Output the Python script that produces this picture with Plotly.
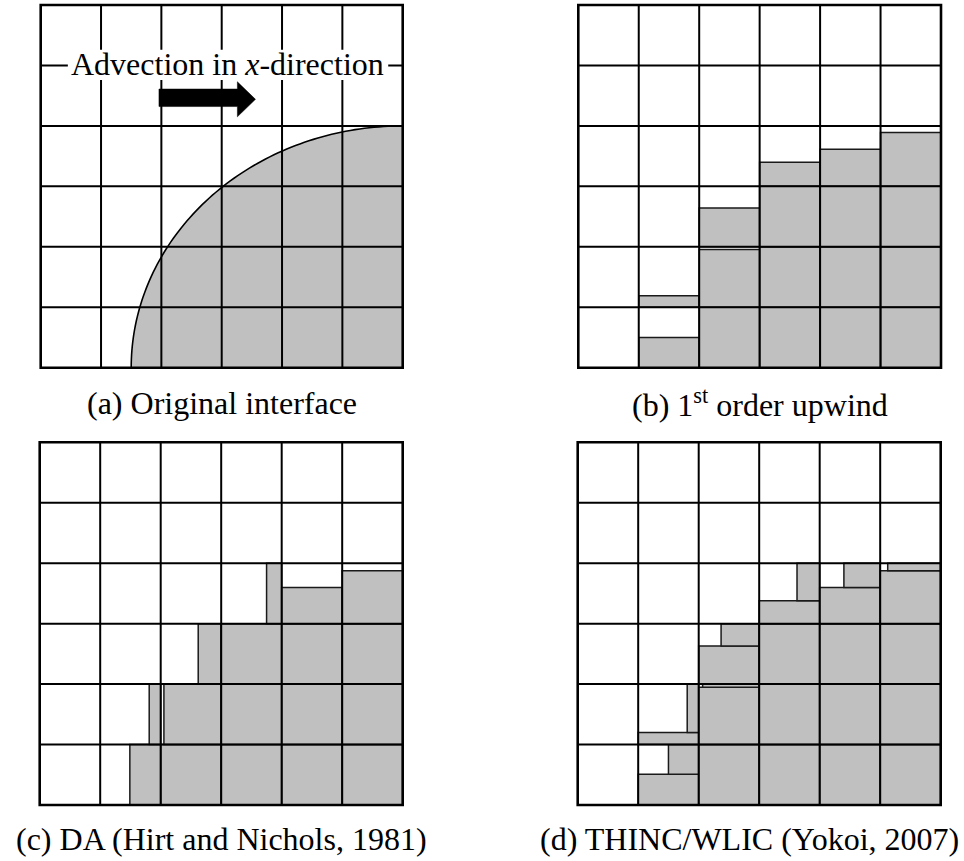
import numpy as np
import plotly.graph_objects as go

W, H = 964, 861
N = 6  # 6 x 6 cells per panel

captions = ["(a) Original interface",
            "(b) 1<sup>st</sup> order upwind",
            "(c) DA (Hirt and Nichols, 1981)",
            "(d) THINC/WLIC (Yokoi, 2007)"]
advection_label = "Advection in <i>x</i>-direction"

# (a) original interface: quarter ellipse centred on the bottom-right corner (cell units)
interface_center = (6.0, 0.0)
interface_semi_axes = (4.5, 4.0)

# (b) 1st order upwind: volume fraction per cell (rows bottom -> top), filled from the bottom
upwind_frac = [
    [0, 0.50, 1.0, 1.0, 1.0, 1.0],
    [0, 0.19, 0.955, 1.0, 1.0, 1.0],
    [0, 0.0, 0.64, 1.0, 1.0, 1.0],
    [0, 0.0, 0.0, 0.40, 0.615, 0.89],
    [0, 0, 0, 0, 0, 0],
    [0, 0, 0, 0, 0, 0],
]

# (c) donor-acceptor: fraction and orientation (H = from bottom, V = from right side)
da_frac = [
    [0, 0.51, 1.0, 1.0, 1.0, 1.0],
    [0, 0.19, 0.947, 1.0, 1.0, 1.0],
    [0, 0.0, 0.38, 1.0, 1.0, 1.0],
    [0, 0.0, 0.0, 0.25, 0.60, 0.876],
    [0, 0, 0, 0, 0, 0],
    [0, 0, 0, 0, 0, 0],
]
da_orient = [
    ["H", "V", "H", "H", "H", "H"],
    ["H", "V", "V", "H", "H", "H"],
    ["H", "H", "V", "H", "H", "H"],
    ["H", "H", "H", "V", "H", "H"],
    ["H", "H", "H", "H", "H", "H"],
    ["H", "H", "H", "H", "H", "H"],
]

# (d) THINC/WLIC: bottom layer height and right-side strip width per cell
wlic_h = [
    [0, 0.51, 1.0, 1.0, 1.0, 1.0],
    [0, 0.20, 0.95, 1.0, 1.0, 1.0],
    [0, 0.0, 0.63, 1.0, 1.0, 1.0],
    [0, 0.0, 0.0, 0.38, 0.60, 0.876],
    [0, 0, 0, 0, 0, 0],
    [0, 0, 0, 0, 0, 0],
]
wlic_w = [
    [0, 0.50, 1.0, 1.0, 1.0, 1.0],
    [0, 0.19, 0.935, 1.0, 1.0, 1.0],
    [0, 0.0, 0.63, 1.0, 1.0, 1.0],
    [0, 0.0, 0.0, 0.375, 0.60, 0.876],
    [0, 0, 0, 0, 0, 0],
    [0, 0, 0, 0, 0, 0],
]

# ---------------- layout / style ----------------
FILL = "#c0c0c0"
EDGE = "#1a1a1a"
FONT = "Liberation Serif, Times New Roman, serif"
panel_px = [(40.7, 5.0, 402.7, 367.7),
            (578.3, 5.0, 941.0, 367.7),
            (39.7, 442.3, 402.7, 805.0),
            (577.7, 442.3, 940.7, 805.0)]
caption_x_px = [221.7, 759.5, 221.0, 749.0]
caption_y_px = [403, 403, 839, 839]
PAD = 0.05

fig = go.Figure()
shapes = []
annotations = []
layout_axes = {}

for k, (x0, y0, x1, y1) in enumerate(panel_px):
    cw = (x1 - x0) / N
    ch = (y1 - y0) / N
    sfx = "" if k == 0 else str(k + 1)
    layout_axes["xaxis" + sfx] = dict(
        domain=[(x0 - PAD * cw) / W, (x1 + PAD * cw) / W], range=[-PAD, N + PAD],
        visible=False, fixedrange=True, anchor="y" + sfx)
    layout_axes["yaxis" + sfx] = dict(
        domain=[1 - (y1 + PAD * ch) / H, 1 - (y0 - PAD * ch) / H], range=[-PAD, N + PAD],
        visible=False, fixedrange=True, anchor="x" + sfx)
    # invisible trace so the axes exist
    fig.add_trace(go.Scatter(x=[0, N], y=[0, N], mode="markers", marker=dict(opacity=0),
                             xaxis="x" + sfx, yaxis="y" + sfx, hoverinfo="skip", showlegend=False))
    annotations.append(dict(text=captions[k], xref="paper", yref="paper",
                            x=caption_x_px[k] / W, y=1 - caption_y_px[k] / H,
                            xanchor="center", yanchor="middle", showarrow=False,
                            font=dict(family=FONT, size=32, color="black")))


def rect(k, xa, ya, xb, yb, line_w=1.5, fill=FILL, color=EDGE):
    sfx = "" if k == 0 else str(k + 1)
    shapes.append(dict(type="rect", xref="x" + sfx, yref="y" + sfx,
                       x0=xa, y0=ya, x1=xb, y1=yb, fillcolor=fill,
                       line=dict(color=color, width=line_w), layer="above"))


# (a) ellipse region
cx, cy = interface_center
a, b = interface_semi_axes
t = np.linspace(np.pi / 2, np.pi, 90)
ex = cx + a * np.cos(t)
ey = cy + b * np.sin(t)
path = "M " + " L ".join(f"{px:.4f},{py:.4f}" for px, py in zip(ex, ey))
shapes.append(dict(type="path", xref="x", yref="y", path=path + f" L {cx},{cy} Z",
                   fillcolor=FILL, line=dict(width=0), layer="above"))

# (b) upwind
for j in range(N):
    for i in range(N):
        f = upwind_frac[j][i]
        if f > 0:
            rect(1, i, j, i + 1, j + f)

# (c) DA
for j in range(N):
    for i in range(N):
        f = da_frac[j][i]
        if f > 0:
            if da_orient[j][i] == "V":
                rect(2, i + 1 - f, j, i + 1, j + 1)
            else:
                rect(2, i, j, i + 1, j + f)

# (d) WLIC
for j in range(N):
    for i in range(N):
        h = wlic_h[j][i]
        w = wlic_w[j][i]
        if h > 0:
            rect(3, i, j, i + 1, j + h)
        if w > 0 and h < 1:
            rect(3, i + 1 - w, j + h, i + 1, j + 1)

# grid lines
for k in range(4):
    sfx = "" if k == 0 else str(k + 1)
    for g in range(1, N):
        shapes.append(dict(type="line", xref="x" + sfx, yref="y" + sfx, x0=g, x1=g, y0=0, y1=N,
                           line=dict(color="black", width=2), layer="above"))
        shapes.append(dict(type="line", xref="x" + sfx, yref="y" + sfx, x0=0, x1=N, y0=g, y1=g,
                           line=dict(color="black", width=2), layer="above"))
    shapes.append(dict(type="rect", xref="x" + sfx, yref="y" + sfx, x0=0, x1=N, y0=0, y1=N,
                       line=dict(color="black", width=2.6), layer="above"))

# ellipse outline
shapes.append(dict(type="path", xref="x", yref="y", path=path,
                   line=dict(color="black", width=1.6), layer="above"))

# label box and arrow in (a)
shapes.append(dict(type="rect", xref="x", yref="y", x0=0.45, x1=5.76, y0=4.76, y1=5.26,
                   fillcolor="white", line=dict(width=0), layer="above"))
arrow = "M 1.96,4.32 L 3.26,4.32 L 3.26,4.15 L 3.56,4.44 L 3.26,4.73 L 3.26,4.61 L 1.96,4.61 Z"
shapes.append(dict(type="path", xref="x", yref="y", path=arrow,
                   fillcolor="black", line=dict(color="black", width=0.5), layer="above"))
annotations.append(dict(text=advection_label, xref="x", yref="y", x=3.1, y=5.03,
                        xanchor="center", yanchor="middle", showarrow=False,
                        font=dict(family=FONT, size=32, color="black")))

fig.update_layout(width=W, height=H, margin=dict(l=0, r=0, t=0, b=0),
                  paper_bgcolor="white", plot_bgcolor="rgba(0,0,0,0)",
                  shapes=shapes, annotations=annotations, showlegend=False, **layout_axes)
fig.write_html("out.html", config={"displayModeBar": False})
